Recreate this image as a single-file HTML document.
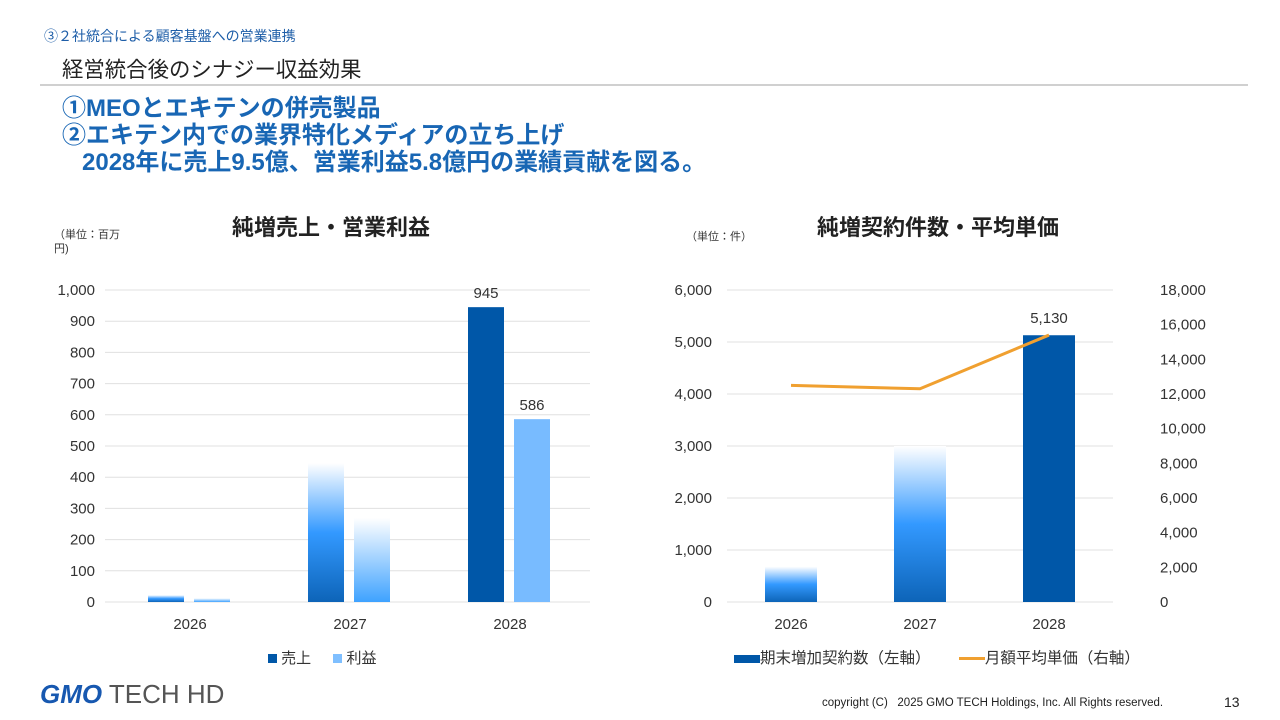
<!DOCTYPE html>
<html lang="ja"><head><meta charset="utf-8">
<style>
html,body{margin:0;padding:0;background:#fff;}
body{width:1280px;height:720px;position:relative;overflow:hidden;font-family:"Liberation Sans","Noto Sans CJK JP",sans-serif;}
.abs{position:absolute;white-space:nowrap;}
</style></head><body>
<div class="abs" style="left:44px;top:26px;font-size:14px;color:#1e5ea8;">③２社統合による顧客基盤への営業連携</div>
<div class="abs" style="left:62px;top:53px;font-size:21.4px;color:#222;">経営統合後のシナジー収益効果</div>
<div class="abs" style="left:40px;top:84px;width:1208px;height:2px;background:#d0d0d0;"></div>
<div class="abs" style="left:62px;top:95px;font-size:24px;font-weight:bold;color:#1866b4;line-height:27px;">①MEOとエキテンの併売製品<br>②エキテン内での業界特化メディアの立ち上げ<br>&nbsp;&nbsp;&nbsp;2028年に売上9.5億、営業利益5.8億円の業績貢献を図る。</div>

<svg class="abs" style="left:0;top:0" width="1280" height="720" id="chart">
<defs>
<linearGradient id="gS" x1="0" y1="0" x2="0" y2="1"><stop offset="0" stop-color="#ffffff"/><stop offset="0.5" stop-color="#3399ff"/><stop offset="1" stop-color="#0d64b8"/></linearGradient>
<linearGradient id="gP" x1="0" y1="0" x2="0" y2="1"><stop offset="0" stop-color="#ffffff"/><stop offset="1" stop-color="#3ea2ff"/></linearGradient>
</defs>
</svg>

<div class="abs" style="left:54px;top:228px;font-size:11px;color:#333;line-height:14px;">（単位：百万<br>円)</div>
<div class="abs" style="left:686px;top:228px;font-size:11px;color:#333;">（単位：件）</div>
<div class="abs" style="left:232px;top:210px;font-size:22px;font-weight:bold;color:#222;">純増売上・営業利益</div>
<div class="abs" style="left:817px;top:210px;font-size:22px;font-weight:bold;color:#222;">純増契約件数・平均単価</div>

<div class="abs" style="left:268px;top:647px;font-size:15px;color:#333;">
<span><span style="display:inline-block;width:9px;height:9px;background:#0057a8;"></span> 売上</span>
<span style="margin-left:18px;"><span style="display:inline-block;width:9px;height:9px;background:#7fbfff;"></span> 利益</span></div>
<div class="abs" style="left:734px;top:646px;font-size:15.5px;color:#333;">
<span><span style="display:inline-block;width:26px;height:8px;background:#0057a8;vertical-align:middle;"></span>期末増加契約数（左軸）</span>
<span style="margin-left:24px;"><span style="display:inline-block;width:26px;height:3px;background:#f0a030;vertical-align:middle;"></span>月額平均単価（右軸）</span></div>

<div class="abs" style="left:40px;top:679px;font-size:26px;"><span style="color:#1758b0;font-weight:900;font-style:italic;letter-spacing:0px;">GMO</span><span style="color:#555;letter-spacing:0px;"> TECH HD</span></div>
<div class="abs" style="left:822px;top:697px;font-size:11.5px;color:#222;">copyright (C)&nbsp;&nbsp; 2025 GMO TECH Holdings, Inc. All Rights reserved.</div>
<div class="abs" style="left:1224px;top:694px;font-size:14px;color:#222;">13</div>

<script>
const years = ["2026","2027","2028"];
const sales = [22, 445, 945];
const profit = [12, 270, 586];
const salesLabels = ["", "", "945"];
const profitLabels = ["", "", "586"];
const leftTicks = [0,100,200,300,400,500,600,700,800,900,1000];
const contracts = [680, 3000, 5130];
const contractLabels = ["", "", "5,130"];
const avgPrice = [12500, 12300, 15400];
const rLeftTicks = [0,1000,2000,3000,4000,5000,6000];
const rRightTicks = [0,2000,4000,6000,8000,10000,12000,14000,16000,18000];

const svg = document.getElementById('chart');
const NS = "http://www.w3.org/2000/svg";
function mk(tag, attrs, txt){const e=document.createElementNS(NS,tag);for(const k in attrs)e.setAttribute(k,attrs[k]);if(txt!==undefined)e.textContent=txt;svg.appendChild(e);return e;}
const fmt = v => v.toLocaleString('en-US');
const FONT = '"Liberation Sans","Noto Sans CJK JP",sans-serif';
const FS = 15;

// Left chart
const L = {x0:105, x1:590, y0:602, y1:290, max:1000};
const ly = v => L.y0 - v/L.max*(L.y0-L.y1);
const lcx = i => 190 + i*160;
leftTicks.forEach(t=>{
  const g=mk('line',{x1:L.x0,x2:L.x1,y1:ly(t),y2:ly(t),stroke:'#e0e0e0','stroke-width':1});
   
  const tx=mk('text',{x:95,y:ly(t)+5,'text-anchor':'end','font-size':FS,fill:'#333','font-family':FONT},fmt(t));
   
});
years.forEach((y,i)=>{
  const fills=[i===2?'#0057a8':'url(#gS)', i===2?'#78bbff':'url(#gP)'];
  [[sales,salesLabels,-42],[profit,profitLabels,4]].forEach((s,k)=>{
    const v=s[0][i], x=lcx(i)+s[2];
    const r=mk('rect',{x:x,y:ly(v),width:36,height:L.y0-ly(v),fill:fills[k]});
    
    
    if(s[1][i]){const t=mk('text',{x:x+18,y:ly(v)-9,'text-anchor':'middle','font-size':FS,fill:'#333','font-family':FONT},s[1][i]);
       }
  });
  const t=mk('text',{x:lcx(i),y:629,'text-anchor':'middle','font-size':FS,fill:'#333','font-family':FONT},y);
   
});

// Right chart
const R = {x0:727, x1:1113, y0:602, y1:290, maxL:6000, maxR:18000};
const ryl = v => R.y0 - v/R.maxL*(R.y0-R.y1);
const ryr = v => R.y0 - v/R.maxR*(R.y0-R.y1);
const rcx = i => 791 + i*129;
rLeftTicks.forEach(t=>{
  const g=mk('line',{x1:R.x0,x2:R.x1,y1:ryl(t),y2:ryl(t),stroke:'#e0e0e0','stroke-width':1});
   
  const tx=mk('text',{x:712,y:ryl(t)+5,'text-anchor':'end','font-size':FS,fill:'#333','font-family':FONT},fmt(t));
   
});
rRightTicks.forEach(t=>{
  const tx=mk('text',{x:1160,y:ryr(t)+5,'text-anchor':'start','font-size':FS,fill:'#333','font-family':FONT},fmt(t));
   
});
years.forEach((y,i)=>{
  const v=contracts[i];
  const r=mk('rect',{x:rcx(i)-26,y:ryl(v),width:52,height:R.y0-ryl(v),fill:i===2?'#0057a8':'url(#gS)'});
  
  
  if(contractLabels[i]){const t=mk('text',{x:rcx(i),y:ryl(v)-12,'text-anchor':'middle','font-size':FS,fill:'#333','font-family':FONT},contractLabels[i]);
     }
  const t=mk('text',{x:rcx(i),y:629,'text-anchor':'middle','font-size':FS,fill:'#333','font-family':FONT},y);
   
});
const pts = avgPrice.map((v,i)=>rcx(i)+','+ryr(v)).join(' ');
const pl=mk('polyline',{points:pts,fill:'none',stroke:'#f0a030','stroke-width':3});


</script>
</body></html>
